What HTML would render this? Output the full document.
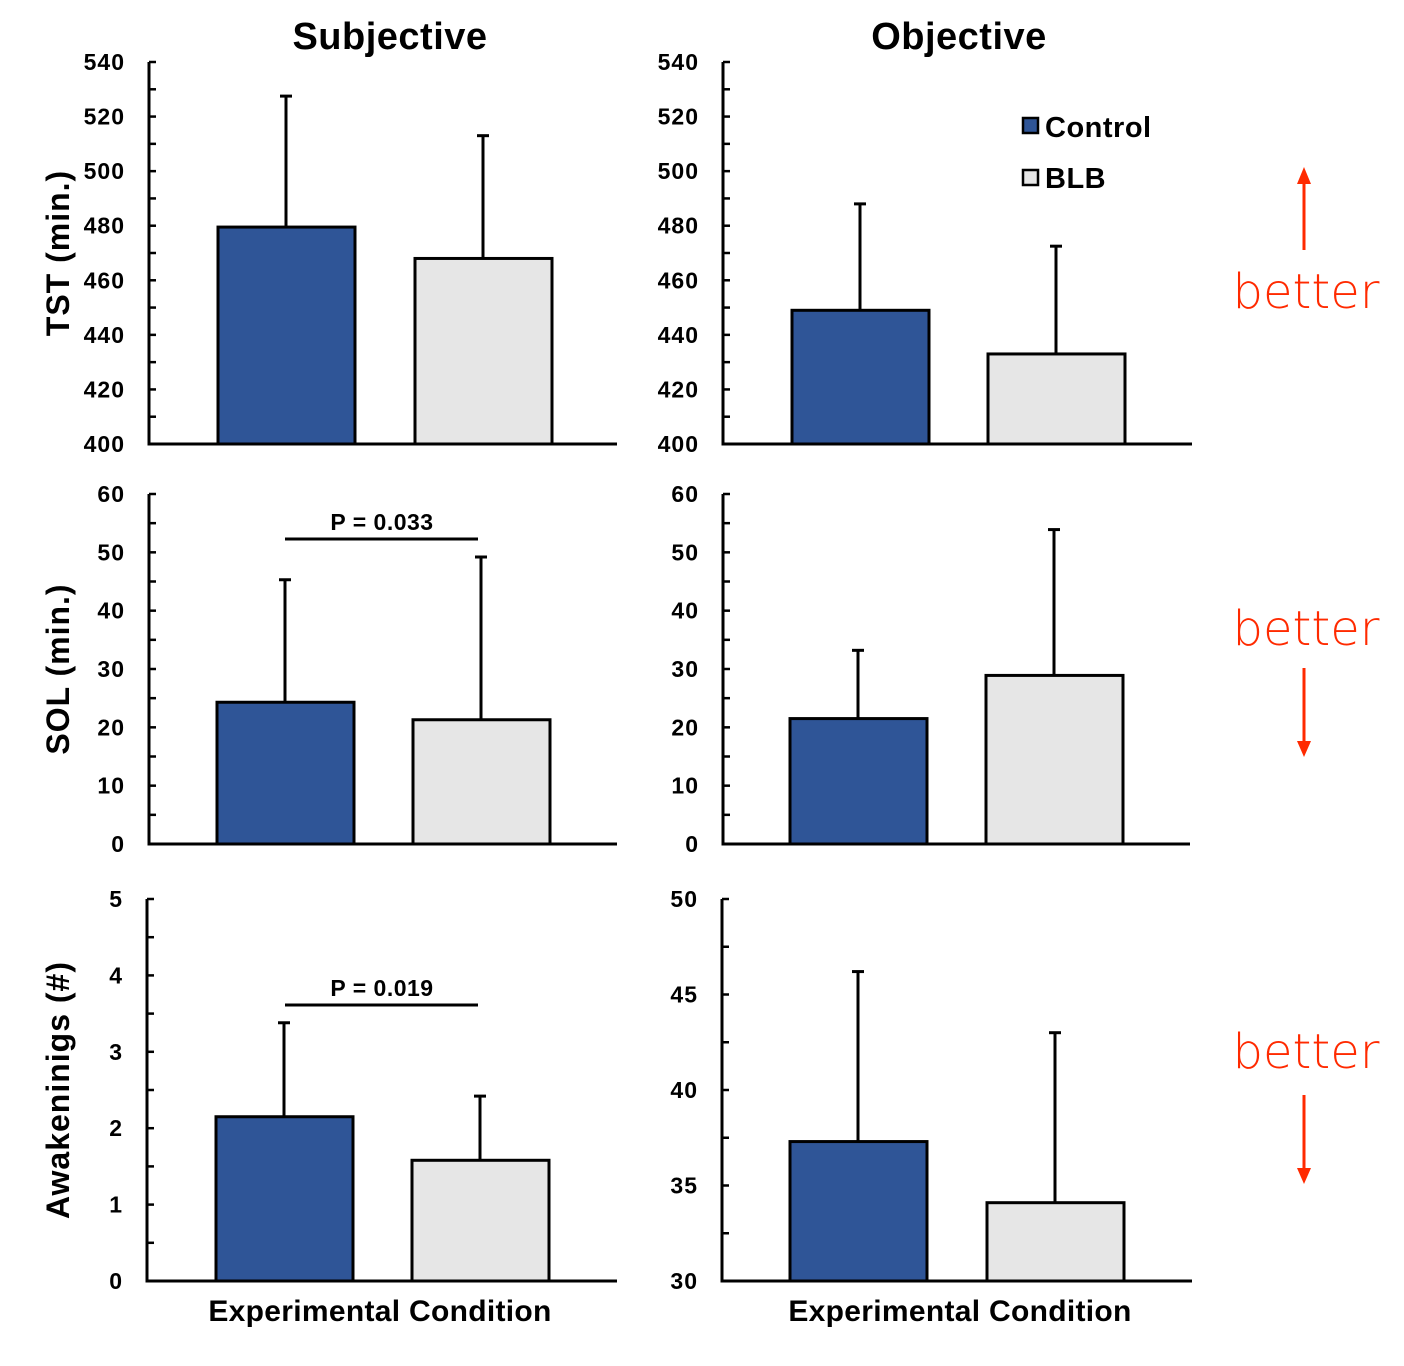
<!DOCTYPE html>
<html><head><meta charset="utf-8"><style>
body{margin:0;background:#fff;}
svg{display:block;font-family:"Liberation Sans",Arial,sans-serif;}
</style></head><body>
<svg id="c" width="1404" height="1366" xmlns="http://www.w3.org/2000/svg">
<text x="390" y="49" font-size="38" font-weight="bold" text-anchor="middle" letter-spacing="0.5">Subjective</text>
<text x="959" y="49" font-size="38" font-weight="bold" text-anchor="middle" letter-spacing="0.5">Objective</text>
<g>
<rect x="1023" y="118" width="15" height="15" fill="#2f5597" stroke="#000" stroke-width="2.5"/>
<text x="1045" y="137" font-size="29" font-weight="bold" letter-spacing="0.5">Control</text>
<rect x="1023" y="170" width="15" height="15" fill="#e6e6e6" stroke="#000" stroke-width="2.5"/>
<text x="1045" y="188" font-size="29" font-weight="bold" letter-spacing="0.5">BLB</text>
</g>
<g fill="#ff2a00">
<text x="1306" y="308" font-size="48" text-anchor="middle" font-family="'DejaVu Sans',sans-serif" font-weight="300">better</text>
<line x1="1304" y1="250" x2="1304" y2="180" stroke="#ff2a00" stroke-width="3"/>
<polygon points="1297,184 1311,184 1304,167"/>
<text x="1306" y="645" font-size="48" text-anchor="middle" font-family="'DejaVu Sans',sans-serif" font-weight="300">better</text>
<line x1="1304" y1="668" x2="1304" y2="745" stroke="#ff2a00" stroke-width="3"/>
<polygon points="1297,741 1311,741 1304,757"/>
<text x="1306" y="1068" font-size="48" text-anchor="middle" font-family="'DejaVu Sans',sans-serif" font-weight="300">better</text>
<line x1="1304" y1="1095" x2="1304" y2="1172" stroke="#ff2a00" stroke-width="3"/>
<polygon points="1297,1168 1311,1168 1304,1184"/>
</g>
<text x="380" y="1321" font-size="30" font-weight="bold" text-anchor="middle" letter-spacing="0.3">Experimental Condition</text>
<text x="960" y="1321" font-size="30" font-weight="bold" text-anchor="middle" letter-spacing="0.3">Experimental Condition</text>
</svg>
<script>
const series = ["Control","BLB"];
const tstSubjMeans = [479.5, 468];
const tstSubjErr = [48, 45];
const tstObjMeans = [449, 433];
const tstObjErr = [39, 39.5];
const solSubjMeans = [24.3, 21.3];
const solSubjErr = [21, 27.9];
const solObjMeans = [21.5, 28.9];
const solObjErr = [11.7, 25];
const awkSubjMeans = [2.15, 1.58];
const awkSubjErr = [1.23, 0.84];
const awkObjMeans = [37.3, 34.1];
const awkObjErr = [8.9, 8.9];
const tstTicks = [400,420,440,460,480,500,520,540];
const solTicks = [0,10,20,30,40,50,60];
const awkSubjTicks = [0,1,2,3,4,5];
const awkObjTicks = [30,35,40,45,50];
const pLabels = ["P = 0.033","P = 0.019"];

const svg = document.getElementById('c');
const NS = "http://www.w3.org/2000/svg";
function mk(tag, at){const e=document.createElementNS(NS,tag);for(const k in at)e.setAttribute(k,at[k]);svg.appendChild(e);return e;}
const fills = ["#2f5597","#e6e6e6"];

function panel(name, ax, top, bot, xEnd, ticks, minorStep, bars, means, errs, ylabel){
  const min = ticks[0], max = ticks[ticks.length-1];
  const y = v => bot - (v-min)/(max-min)*(bot-top);
  for(let v=min; v<=max+1e-9; v+=minorStep){
    const t = mk('line',{x1:ax,x2:ax+7,y1:y(v),y2:y(v),stroke:'#000','stroke-width':2.5});
    
    
  }
  ticks.forEach(v=>{
    const t = mk('text',{x:ax-24,y:y(v)+8,'font-size':23,'font-weight':'bold','text-anchor':'end','letter-spacing':1});
    t.textContent = v;
    
    
  });
  means.forEach((m,i)=>{
    const cx = bars[i];
    const e = mk('line',{x1:cx,x2:cx,y1:y(m),y2:y(m+errs[i]),stroke:'#000','stroke-width':3});
    
    
    const c = mk('line',{x1:cx-6,x2:cx+6,y1:y(m+errs[i]),y2:y(m+errs[i]),stroke:'#000','stroke-width':3});
    
    
    const r = mk('rect',{x:cx-68,y:y(m),width:137,height:bot-y(m),fill:fills[i],stroke:'#000','stroke-width':3});
    
    
  });
  const a = mk('line',{x1:ax,x2:ax,y1:top,y2:bot+1.5,stroke:'#000','stroke-width':3});
  
  
  const xa = mk('line',{x1:ax-1.5,x2:xEnd,y1:bot,y2:bot,stroke:'#000','stroke-width':3});
  
  
  if(ylabel){
    const cy=(top+bot)/2;
    const t = mk('text',{x:0,y:0,'font-size':32,'font-weight':'bold','text-anchor':'middle','letter-spacing':1,transform:`translate(69,${cy}) rotate(-90)`});
    t.textContent = ylabel;
    
    
  }
}
panel('tst-subjective',149,62,444,617,tstTicks,10,[286,483],tstSubjMeans,tstSubjErr,'TST (min.)');
panel('tst-objective',723,62,444,1192,tstTicks,10,[860,1056],tstObjMeans,tstObjErr,null);
panel('sol-subjective',149,494,844,617,solTicks,5,[285,481],solSubjMeans,solSubjErr,'SOL (min.)');
panel('sol-objective',723,494,844,1190,solTicks,5,[858,1054],solObjMeans,solObjErr,null);
panel('awakenings-subjective',147,899,1281,617,awkSubjTicks,0.5,[284,480],awkSubjMeans,awkSubjErr,'Awakeninigs (#)');
panel('awakenings-objective',722,899,1281,1192,awkObjTicks,2.5,[858,1055],awkObjMeans,awkObjErr,null);

[[539,522,0],[1005,988,1]].forEach(([ly,ty,i])=>{
  const l = mk('line',{x1:285,x2:478,y1:ly,y2:ly,stroke:'#000','stroke-width':3});
  
  
  const t = mk('text',{x:382,y:ty+8,'font-size':23,'font-weight':'bold','text-anchor':'middle','letter-spacing':0.5});
  t.textContent = pLabels[i];
  
  
});
</script>
</body></html>
